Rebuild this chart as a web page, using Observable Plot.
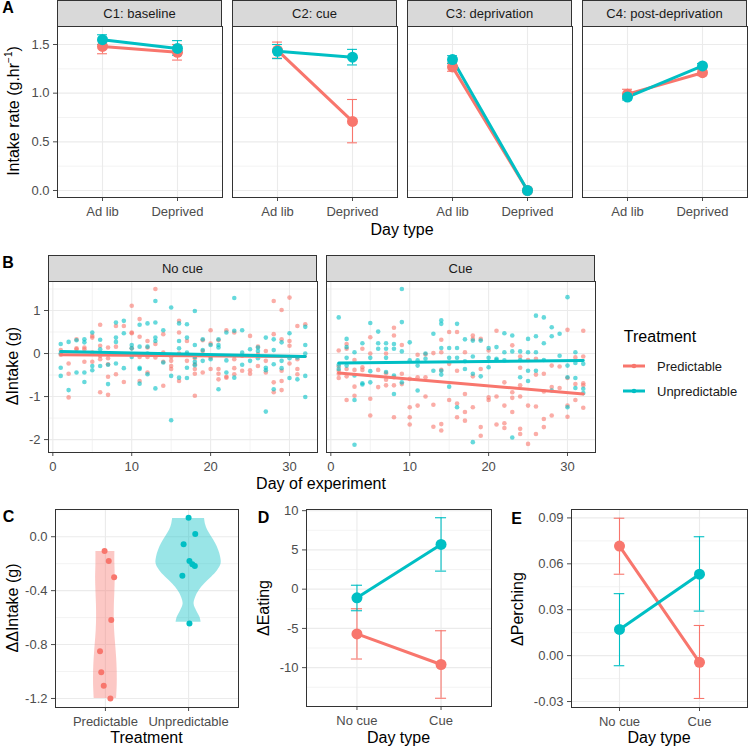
<!DOCTYPE html>
<html><head><meta charset="utf-8">
<script src="https://cdn.jsdelivr.net/npm/d3@7"></script>
<script src="https://cdn.jsdelivr.net/npm/@observablehq/plot@0.6"></script>
<style>
body{margin:0;background:#fff;}
#fig{position:relative;width:748px;height:747px;overflow:hidden;background:#fff;font-family:"Liberation Sans",Arial,Helvetica,sans-serif;}
.strip{position:absolute;background:#D9D9D9;border:1px solid #333;box-sizing:border-box;font-size:13px;color:#1A1A1A;text-align:center;white-space:nowrap;}
.lbl{position:absolute;line-height:1;white-space:nowrap;color:#000;}
</style></head>
<body><div id="fig"></div>
<script>
// ---------- DATA ----------
// Panel A
const conditions = ["C1: baseline", "C2: cue", "C3: deprivation", "C4: post-deprivation"];
const dayTypesA = ["Ad lib", "Deprived"];
const rateMeanPred   = [[1.48, 1.42], [1.44, 0.71], [1.27, 0.0], [0.99, 1.21]];
const rateLoPred     = [[1.405, 1.34], [1.36, 0.49], [1.225, 0.0], [0.945, 1.18]];
const rateHiPred     = [[1.545, 1.50], [1.525, 0.935], [1.31, 0.0], [1.04, 1.245]];
const rateMeanUnpred = [[1.55, 1.46], [1.43, 1.37], [1.345, 0.0], [0.96, 1.28]];
const rateLoUnpred   = [[1.50, 1.39], [1.355, 1.29], [1.305, 0.0], [0.93, 1.255]];
const rateHiUnpred   = [[1.60, 1.54], [1.50, 1.45], [1.385, 0.0], [0.99, 1.305]];
const rateTicks = [0, 0.5, 1.0, 1.5];
const rateMinor = [0.25, 0.75, 1.25];

// Panel B : [day, values...]
const cueFacets = ["No cue", "Cue"];
const noCuePred = [
 [1,0.08,-0.03],[2,-0.23,-0.47,-1.02],[3,0.33,0.10,0.12],[4,0.10,-0.19,0.14],[5,0.41,0.37,-0.19,0.02],
 [6,0.67,-0.05,-0.13,-0.90,0.18],[7,0.14,-0.54,-0.96,-0.11,-0.25],[8,0.64,0.16,-0.48],[9,0.64,-0.66],
 [10,1.11,0.49,0.47,0.12],[11,0.80,0.39,-0.08,-0.64],[12,0.29,-0.08,-0.44,0.14],[13,1.50,0.22,-0.09],
 [14,0.45,0.02,-0.19,-0.75],[15,-0.08,-0.17,-0.29,-0.36],[16,0.76,0.49,-0.64,0.00],[17,0.29,-0.02,-0.17],
 [18,-0.25,-0.36,-0.47,-0.98,-0.11],[19,0.06,-0.44,0.31],[20,0.54,0.23,-0.36,-0.09],[21,0.31,-0.36,-0.47,-0.60],
 [22,0.54,-0.54,-0.56],[23,0.49,-0.13,-0.34,-0.48],[24,-0.05,-0.40],[25,0.41,-0.47,-0.39],[26,0.16,-0.29,-0.02],
 [27,0.06,-0.44,-0.17],[28,1.22,0.45,-0.67,-0.90],[29,1.01,0.33,-0.64,-0.85,-0.40],[30,1.30,0.29,0.18,-0.23],
 [31,0.64,-0.36,-0.48,-0.13],[32,0.68]
];
const noCueUnpred = [
 [1,0.22,-0.33,-0.52,0.00],[2,0.27,-0.85],[3,0.31,-0.44],[4,0.33,0.26,-0.44,-0.66],[5,0.49,-0.29,-0.39],
 [6,0.32,0.10,-0.29],[7,-0.26,-0.71],[8,0.72,0.37,0.27,-0.23],[9,0.76,0.47,-0.34],[10,0.20,0.12,-0.08],
 [11,0.67,0.16,-0.33,-0.36,-0.70],[12,0.70,0.16,0.00,-0.48],[13,1.22,0.72,0.37,0.29,-0.81],[14,0.54,-0.21],
 [15,1.07,-0.52,-1.55],[16,0.70,0.29,0.12,-0.56],[17,0.68,0.37,0.02,-0.33,-0.57],[18,0.99,0.20,-0.08,-0.19,-0.27],
 [19,0.33,0.08,-0.17],[20,-0.13,0.20],[21,0.33,0.20,0.14,-0.83],[22,0.49,-0.16,-0.44],[23,1.29,0.53,-0.56],
 [24,0.54,0.02,-0.26],[25,0.10,-0.17],[26,0.14,0.06,-0.11],[27,0.37,-0.33,-0.39,-1.35],[28,0.33,0.08,-0.25,-0.83],
 [29,0.26,-0.17,-0.34],[30,0.47,-0.57,-0.11],[31,-0.09,-0.60],[32,0.62,0.20,0.00,-0.52,-1.01]
];
const cuePred = [
 [1,0.07,-0.40,-0.47,-0.57,-0.30],[2,0.22,0.11,-0.36,-0.53,-1.08],[3,-0.15,-0.38,-0.77,-0.98],[4,0.11,-0.32,-0.38],
 [5,0.38,0.00,-1.05,-1.44],[6,-0.38,-0.78],[7,0.00,-0.46,-0.61,-0.74],[8,0.42,0.60,-0.55,-1.48,-0.74],
 [9,0.20,-0.47,-0.71],[10,-1.25,-1.48,-1.65,-0.59],[11,-0.03,-1.21,-0.55],[12,-0.02,-0.55,-1.00],
 [13,0.01,-1.19,-1.70],[14,0.32,0.03,-0.38,-1.64,-1.79],[15,0.50,-0.24,-1.08],[16,0.50,-0.40,-1.16,-1.48],
 [17,0.03,-0.94,-1.36,-1.56],[18,0.42,0.34,-0.53,-1.25],[19,0.34,-1.71,-1.91,-0.36],[20,0.07,-1.02,-1.08],
 [21,0.53,-1.00,-1.65],[22,-0.67,-1.21,-1.62,-1.73],[23,0.19,-0.90,-1.36,-1.03],[24,-0.07,-0.33,-0.74,-1.00,-1.75,-1.87],
 [25,-0.15,-1.21,-2.10],[26,-0.12,-0.49,-1.23,-1.87],[27,-0.47,-0.88,-1.52,-1.71],[28,-0.28,-0.78,-1.44],
 [29,-0.30,-0.80],[30,0.55,-1.21,-1.47,-0.57],[31,-1.08,-0.09,-0.71],[32,0.53,-0.07,-0.74,-1.26,-0.69]
];
const cueUnpred = [
 [1,0.84,-0.36,-0.26],[2,0.34,0.15,-0.10,-0.28],[3,0.03,-0.51,-1.08,-2.12],[4,0.24,-0.69,-0.72],
 [5,0.71,-0.10,-0.41,-0.67],[6,0.51,0.24,0.11],[7,0.24,0.11,-0.10,-0.43],[8,0.22,0.11,-0.51,-0.94],
 [9,1.50,0.73,0.05,-0.67],[10,0.26,-0.16],[11,-0.16,-0.28,-0.86],[12,0.00,-0.12],[13,0.46,-0.40],
 [14,0.77,0.69,0.13,-0.40,-0.49],[15,0.13,-0.10,-0.77],[16,0.69,0.13,-0.10,-1.25],[17,0.33,-0.18,-0.36],
 [18,0.30,-0.07,-0.47,-2.06],[19,0.30,-0.53],[20,0.13,-0.10,-0.32],[21,0.15,-0.12,-0.15],[22,0.47,0.03,-0.16],
 [23,0.42,0.05,-1.95],[24,0.05,-0.15,-0.55],[25,0.34,0.03,-0.40,-0.64],[26,0.88,0.40,0.03,-0.40],
 [27,0.84,0.24,-0.15],[28,0.61,0.40,-0.86],[29,0.46,-0.05],[30,1.31,-0.28,-0.55,-1.25],
 [31,0.03,-0.22,-0.57,-0.80],[32,-0.24,-0.82,-0.92]
];
const fitDays = [1, 32];
const fitNoCuePred = [-0.03, -0.07];
const fitNoCueUnpred = [0.05, -0.07];
const fitCuePred = [-0.45, -0.94];
const fitCueUnpred = [-0.22, -0.16];
const dayTicks = [0, 10, 20, 30];
const dayMinor = [5, 15, 25];
const intakeTicks = [-2, -1, 0, 1];
const intakeMinor = [-1.5, -0.5, 0.5, 1.5];

// Panel C
const treatments = ["Predictable", "Unpredictable"];
const ddPred = [-0.105, -0.18, -0.30, -0.617, -0.85, -1.005, -1.105, -1.20];
const ddPredJit = [-0.01, 0.04, 0.105, 0.07, -0.065, -0.05, -0.02, 0.06];
const ddUnpred = [0.14, 0.02, -0.055, -0.18, -0.205, -0.217, -0.29, -0.643];
const ddUnpredJit = [0.0, 0.08, -0.06, 0.01, 0.045, 0.075, -0.075, 0.01];
const violinPredY  = [-0.11, -0.2, -0.3, -0.4, -0.5, -0.6, -0.7, -0.8, -0.9, -1.0, -1.1, -1.2];
const violinPredW  = [0.114, 0.114, 0.118, 0.114, 0.108, 0.106, 0.111, 0.123, 0.135, 0.142, 0.142, 0.135];
const violinUnpY   = [0.135, 0.09, 0.05, 0.0, -0.05, -0.1, -0.15, -0.2, -0.25, -0.3, -0.35, -0.4, -0.45, -0.5, -0.55, -0.6, -0.635];
const violinUnpW   = [0.192, 0.204, 0.228, 0.276, 0.325, 0.361, 0.385, 0.391, 0.349, 0.276, 0.192, 0.126, 0.084, 0.066, 0.096, 0.138, 0.150];
const ddTicks = [0, -0.4, -0.8, -1.2];
const ddMinor = [0.2, -0.2, -0.6, -1.0];

// Panel D
const dayTypesDE = ["No cue", "Cue"];
const eatPred = [-5.7, -9.6], eatPredLo = [-8.9, -13.9], eatPredHi = [-2.5, -5.3];
const eatUnpred = [-1.1, 5.7], eatUnpredLo = [-2.75, 2.3], eatUnpredHi = [0.5, 9.1];
const eatTicks = [10, 5, 0, -5, -10];
const eatMinor = [7.5, 2.5, -2.5, -7.5, -12.5];

// Panel E
const perchPred = [0.0716, -0.0044], perchPredLo = [0.0532, -0.028], perchPredHi = [0.0898, 0.0197];
const perchUnpred = [0.0171, 0.0532], perchUnpredLo = [-0.0066, 0.0291], perchUnpredHi = [0.0405, 0.0777];
const perchTicks = [0.09, 0.06, 0.03, 0.0, -0.03];
const perchMinor = [0.075, 0.045, 0.015, -0.015];

// ---------- DRAWING ----------
const FONT = '"Liberation Sans", Arial, Helvetica, sans-serif';
const RED = "#F8766D", CYAN = "#00BFC4", GRID = "#EBEBEB", TXT = "#4D4D4D";
const fig = document.getElementById("fig");
const catDomain = [0.4, 2.6];
const CAP = 0.066;

function plotPanel(fl, ft, fw, fh, xDomain, yDomain, marks) {
  const ML = 50, MR = 12, MT = 12, MB = 30;
  const svg = Plot.plot({
    width: fw + ML + MR, height: fh + MT + MB,
    marginLeft: ML, marginRight: MR, marginTop: MT, marginBottom: MB,
    x: {type: "linear", domain: xDomain, axis: null},
    y: {type: "linear", domain: yDomain, axis: null},
    style: {background: "transparent", fontFamily: FONT, fontSize: "13px", overflow: "visible"},
    marks
  });
  svg.style.position = "absolute";
  svg.style.left = (fl - ML) + "px";
  svg.style.top = (ft - MT) + "px";
  fig.appendChild(svg);
}
function grid(xMajor, xMinor, yMajor, yMinor) {
  return [
    Plot.ruleY(yMinor, {stroke: GRID, strokeWidth: 0.6}),
    Plot.ruleX(xMinor, {stroke: GRID, strokeWidth: 0.6}),
    Plot.ruleY(yMajor, {stroke: GRID, strokeWidth: 1.1}),
    Plot.ruleX(xMajor, {stroke: GRID, strokeWidth: 1.1})
  ];
}
const xAxis = (ticks, fmt) => Plot.axisX({ticks, tickFormat: fmt, tickSize: 4, tickPadding: 5, color: TXT, label: null, anchor: "bottom", fontSize: 13});
const yAxis = (ticks, fmt) => Plot.axisY({ticks, tickFormat: fmt, tickSize: 4, tickPadding: 4, color: TXT, label: null, anchor: "left", fontSize: 13});
const frame = () => Plot.frame({stroke: "#333333", strokeWidth: 1});
function errorMarks(rows, color) {
  return [
    Plot.ruleX(rows, {x: "x", y1: "lo", y2: "hi", stroke: color, strokeWidth: 1.1}),
    Plot.ruleY(rows, {y: "lo", x1: d => d.x - CAP, x2: d => d.x + CAP, stroke: color, strokeWidth: 1.1}),
    Plot.ruleY(rows, {y: "hi", x1: d => d.x - CAP, x2: d => d.x + CAP, stroke: color, strokeWidth: 1.1})
  ];
}
function rowsOf(mean, lo, hi) { return mean.map((m, j) => ({x: j + 1, y: m, lo: lo[j], hi: hi[j]})); }
function interactionMarks(pred, unpred, r) {
  return [
    ...errorMarks(pred, RED), ...errorMarks(unpred, CYAN),
    Plot.line(pred, {x: "x", y: "y", stroke: RED, strokeWidth: 3}),
    Plot.line(unpred, {x: "x", y: "y", stroke: CYAN, strokeWidth: 3}),
    Plot.dot(pred, {x: "x", y: "y", fill: RED, r}),
    Plot.dot(unpred, {x: "x", y: "y", fill: CYAN, r})
  ];
}
function strip(text, left, top, width, height) {
  const d = document.createElement("div");
  d.className = "strip";
  d.style.left = left + "px"; d.style.top = top + "px";
  d.style.width = width + "px"; d.style.height = height + "px";
  d.style.lineHeight = (height - 2) + "px";
  d.textContent = text;
  fig.appendChild(d);
}
function label(html, cx, cy, size, opts = {}) {
  const d = document.createElement("div");
  d.className = "lbl";
  d.style.left = cx + "px"; d.style.top = cy + "px";
  d.style.fontSize = size + "px";
  d.style.transform = "translate(-50%,-50%)" + (opts.rotate ? " rotate(-90deg)" : "");
  if (opts.bold) d.style.fontWeight = "bold";
  if (opts.color) d.style.color = opts.color;
  d.innerHTML = html;
  fig.appendChild(d);
}
const fmt1 = d => d.toFixed(1);
const catFmt = labels => d => labels[d - 1];

// ----- Panel A -----
const aLefts = [57, 232, 407, 582], aW = 165, aTop = 26, aH = 171;
const rateDomain = [-0.072, 1.685];
conditions.forEach((cond, i) => {
  const pred = rowsOf(rateMeanPred[i], rateLoPred[i], rateHiPred[i]);
  const unpred = rowsOf(rateMeanUnpred[i], rateLoUnpred[i], rateHiUnpred[i]);
  plotPanel(aLefts[i], aTop, aW, aH, catDomain, rateDomain, [
    ...grid([1, 2], [], rateTicks, rateMinor),
    ...interactionMarks(pred, unpred, 5.5),
    xAxis([1, 2], catFmt(dayTypesA)),
    ...(i === 0 ? [yAxis(rateTicks, fmt1)] : []),
    frame()
  ]);
  strip(cond, aLefts[i], 0, aW, 27);
});
label("Intake rate (g.hr<sup style='font-size:10px'>−1</sup>)", 13, 111, 16, {rotate: true});
label("Day type", 402, 230, 16);
label("A", 8, 8, 16, {bold: true});

// ----- Panel B -----
const bLefts = [48, 326], bW = 269, bTop = 281, bH = 171;
const dayDomain = [-0.55, 33.55], intakeDomain = [-2.30, 1.674];
const flat = (raw, facet, treat) => raw.flatMap(([day, ...vals]) => vals.map(v => ({day, v, facet, treat})));
const bSets = [
  {pred: flat(noCuePred), unpred: flat(noCueUnpred), fitP: fitNoCuePred, fitU: fitNoCueUnpred},
  {pred: flat(cuePred), unpred: flat(cueUnpred), fitP: fitCuePred, fitU: fitCueUnpred}
];
bSets.forEach((s, i) => {
  const fitP = fitDays.map((d, j) => ({day: d, v: s.fitP[j]}));
  const fitU = fitDays.map((d, j) => ({day: d, v: s.fitU[j]}));
  plotPanel(bLefts[i], bTop, bW, bH, dayDomain, intakeDomain, [
    ...grid(dayTicks, dayMinor, intakeTicks, intakeMinor),
    Plot.dot(s.pred, {x: "day", y: "v", fill: RED, fillOpacity: 0.6, r: 2.3}),
    Plot.dot(s.unpred, {x: "day", y: "v", fill: CYAN, fillOpacity: 0.6, r: 2.3}),
    Plot.line(fitP, {x: "day", y: "v", stroke: RED, strokeWidth: 3}),
    Plot.line(fitU, {x: "day", y: "v", stroke: CYAN, strokeWidth: 3}),
    xAxis(dayTicks, d => String(d)),
    ...(i === 0 ? [yAxis(intakeTicks, d => String(d))] : []),
    frame()
  ]);
  strip(cueFacets[i], bLefts[i], 255, bW, 27);
});
label("ΔIntake (g)", 13, 366, 16, {rotate: true});
label("Day of experiment", 321, 484, 16);
label("B", 8, 263, 16, {bold: true});

// legend
label("Treatment", 622 + 38, 337, 16);
[["Predictable", RED, 366], ["Unpredictable", CYAN, 391]].forEach(([name, col, y]) => {
  const s = document.createElementNS("http://www.w3.org/2000/svg", "svg");
  s.setAttribute("width", 26); s.setAttribute("height", 12);
  s.style.position = "absolute"; s.style.left = "621px"; s.style.top = (y - 6) + "px";
  s.innerHTML = `<line x1="2" x2="24" y1="6" y2="6" stroke="${col}" stroke-width="3"/><circle cx="13" cy="6" r="2.3" fill="${col}"/>`;
  fig.appendChild(s);
  const d = document.createElement("div");
  d.className = "lbl"; d.style.left = "657px"; d.style.top = y + "px";
  d.style.fontSize = "13px"; d.style.transform = "translate(0,-50%)"; d.style.color = "#1A1A1A";
  d.textContent = name;
  fig.appendChild(d);
});

// ----- Panel C -----
const cL = 55, cW = 183, cTop = 509, cH = 198;
const vPred = violinPredY.map((y, j) => ({y, x1: 1 - violinPredW[j], x2: 1 + violinPredW[j]}));
const vUnp = violinUnpY.map((y, j) => ({y, x1: 2 - violinUnpW[j], x2: 2 + violinUnpW[j]}));
const ptsPred = ddPred.map((v, j) => ({x: 1 + ddPredJit[j], y: v}));
const ptsUnp = ddUnpred.map((v, j) => ({x: 2 + ddUnpredJit[j], y: v}));
plotPanel(cL, cTop, cW, cH, catDomain, [-1.267, 0.202], [
  ...grid([1, 2], [], ddTicks, ddMinor),
  Plot.areaX(vPred, {y: "y", x1: "x1", x2: "x2", fill: RED, fillOpacity: 0.4, curve: "catmull-rom"}),
  Plot.areaX(vUnp, {y: "y", x1: "x1", x2: "x2", fill: CYAN, fillOpacity: 0.4, curve: "catmull-rom"}),
  Plot.dot(ptsPred, {x: "x", y: "y", fill: RED, r: 3}),
  Plot.dot(ptsUnp, {x: "x", y: "y", fill: CYAN, r: 3}),
  xAxis([1, 2], catFmt(treatments)),
  yAxis(ddTicks, fmt1),
  frame()
]);
label("ΔΔIntake (g)", 13, 608, 16, {rotate: true});
label("Treatment", 146.5, 738, 16);
label("C", 8.5, 517, 16, {bold: true});

// ----- Panel D -----
plotPanel(306, 509, 185, 197, catDomain, [-14.95, 10.15], [
  ...grid([1, 2], [], eatTicks, eatMinor),
  ...interactionMarks(rowsOf(eatPred, eatPredLo, eatPredHi), rowsOf(eatUnpred, eatUnpredLo, eatUnpredHi), 5.5),
  xAxis([1, 2], catFmt(dayTypesDE)),
  yAxis(eatTicks, d => String(d)),
  frame()
]);
label("ΔEating", 264, 608, 16, {rotate: true});
label("Day type", 398.5, 738, 16);
label("D", 263.5, 518, 16, {bold: true});

// ----- Panel E -----
plotPanel(571, 509, 176, 198, catDomain, [-0.0339, 0.0955], [
  ...grid([1, 2], [], perchTicks, perchMinor),
  ...interactionMarks(rowsOf(perchPred, perchPredLo, perchPredHi), rowsOf(perchUnpred, perchUnpredLo, perchUnpredHi), 5.5),
  xAxis([1, 2], catFmt(dayTypesDE)),
  yAxis(perchTicks, d => d.toFixed(2)),
  frame()
]);
label("ΔPerching", 518, 609, 16, {rotate: true});
label("Day type", 659, 738, 16);
label("E", 516.5, 519, 16, {bold: true});
</script>
</body></html>
